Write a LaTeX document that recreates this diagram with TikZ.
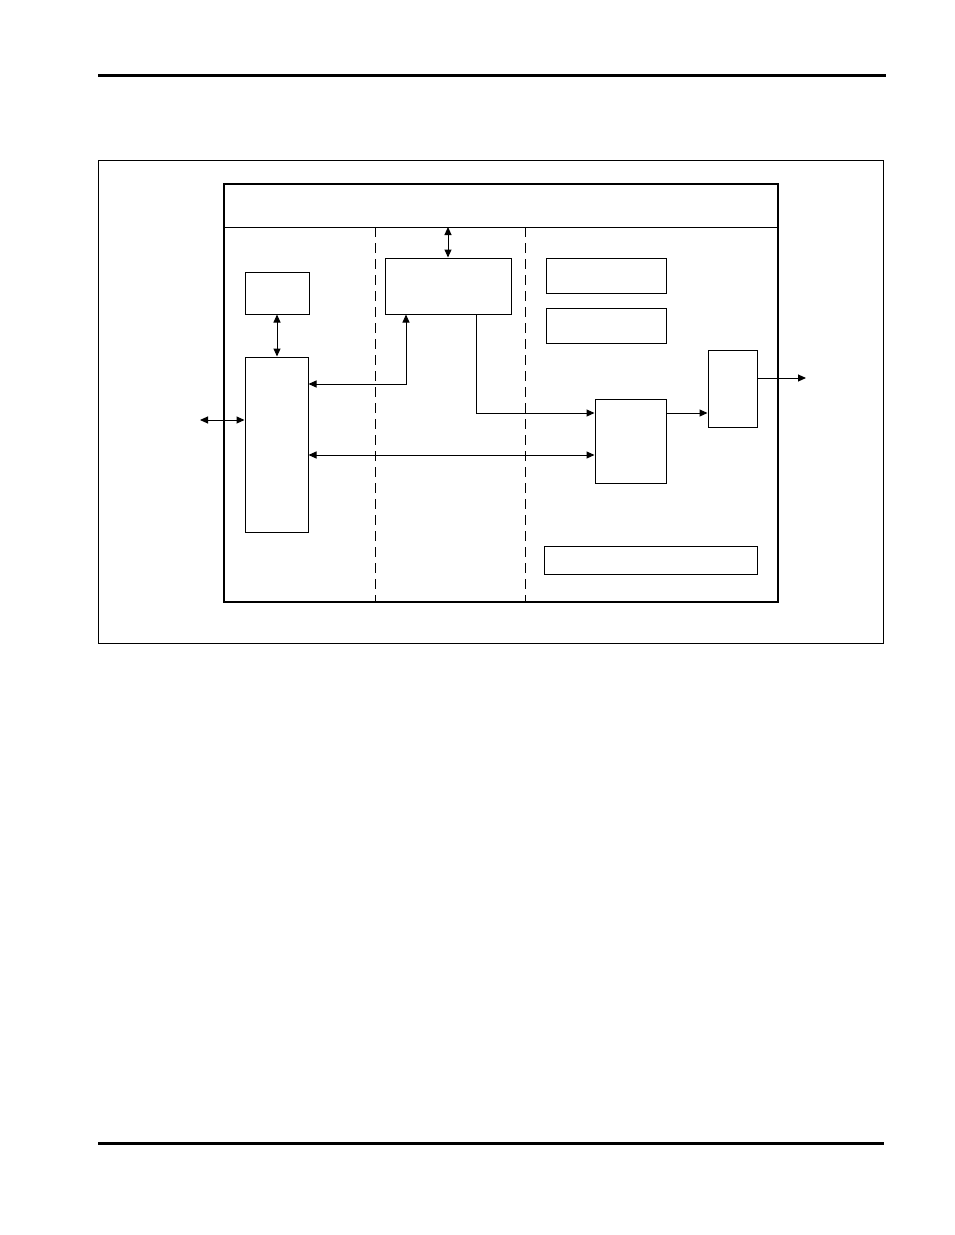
\documentclass[tikz,border=0pt]{standalone}
\usetikzlibrary{arrows.meta,fit}
% one unit = one pixel of the page scan
\tikzstyle{page} = [
  x=0.75pt, y=-0.75pt,
  line width=0.75pt,
  >={Triangle[length=6pt,width=5.25pt]},
]
\tikzstyle{blk} = [draw, inner sep=0pt, line width=0.75pt]
\tikzstyle{rule} = [line width=2.25pt]
\tikzstyle{divider} = [dash pattern=on 7.5pt off 4.5pt]
\tikzstyle{arr} = [->]
\tikzstyle{dbl} = [<->]

\begin{document}
\begin{tikzpicture}[page]
      \useasboundingbox (0,0) rectangle (954,1235);

      % Page rules and frame
      \draw[rule] (98,75) -- (886,75);
      \draw[rule] (98,1143) -- (884,1143);
      \draw (98,160) rectangle (883,643);

      % Chip outline
      \draw[line width=1.5pt] (224,184) rectangle (778,602);
      \draw (224,227) -- (778,227);
      \draw[divider] (375,227) -- (375,602);
      \draw[divider] (525,227) -- (525,602);

      % Blocks
      \node[blk, fit={(245,272) (309,314)}] (mem) {};
      \node[blk, fit={(245,357) (308,532)}] (cpu) {};
      \node[blk, fit={(385,258) (511,314)}] (ctrl) {};
      \node[blk, fit={(546,258) (666,293)}] (regA) {};
      \node[blk, fit={(546,308) (666,343)}] (regB) {};
      \node[blk, fit={(595,399) (666,483)}] (proc) {};
      \node[blk, fit={(708,350) (757,427)}] (drv) {};
      \node[blk, fit={(544,546) (757,574)}] (pwr) {};

      % Connection points
      \coordinate (hdr) at (448,227);
      \coordinate (ext) at (200,420);
      \coordinate (ctl) at (406,384);
      \coordinate (dat) at (476,413);
      \coordinate (bus) at (0,455);
      \coordinate (out) at (806,378);

      % Connectors
      \draw[dbl] (hdr) -- (ctrl.north);
      \draw[dbl] (mem.south) -- (mem.south |- cpu.north);
      \draw[dbl] (ext) -- (cpu.west |- ext);
      \draw[dbl] (cpu.east |- ctl) -- (ctl) -- (ctl |- ctrl.south);
      \draw[arr] (dat |- ctrl.south) |- (proc.west |- dat);
      \draw[dbl] (cpu.east |- bus) -- (proc.west |- bus);
      \draw[arr] (proc.east |- dat) -- (drv.west |- dat);
      \draw[arr] (drv.east |- out) -- (out);
    \end{tikzpicture}
\end{document}
